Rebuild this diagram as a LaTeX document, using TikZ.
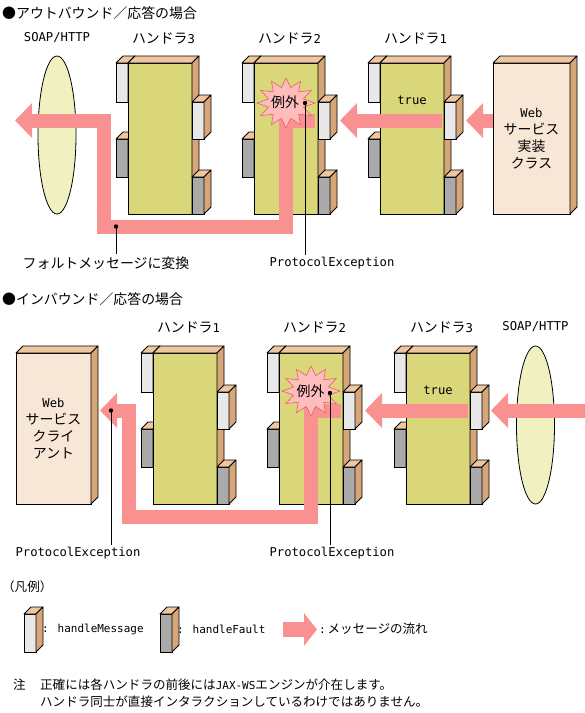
\documentclass[tikz,border=0pt]{standalone}
\usepackage{fontspec}
\setmainfont{DejaVu Sans Mono}
\newfontfamily\jp[Scale=1.14]{Noto Sans CJK JP}
\usetikzlibrary{arrows.meta,positioning,shapes.geometric}

\definecolor{bodyc}{RGB}{217,215,122}
\definecolor{sidec}{RGB}{214,166,120}
\definecolor{topc}{RGB}{238,198,160}
\definecolor{msgc}{RGB}{232,232,232}
\definecolor{faultc}{RGB}{170,170,170}
\definecolor{classc}{RGB}{248,230,214}
\definecolor{soapc}{RGB}{240,240,192}
\definecolor{flowc}{RGB}{250,145,145}
\definecolor{burstc}{RGB}{255,188,188}
\definecolor{burstline}{RGB}{228,96,96}

% box with top and right faces: name, fill, x, y, width, height
\newcommand{\cube}[6]{%
  \node[cubefront, fill=#2, minimum width=#5pt, minimum height=#6pt] (#1) at (#3,#4) {};
  \filldraw[cubeedge, fill=topc] (#1.north west) -- ++(7,-7) -- ([shift={(7,-7)}]#1.north east) -- (#1.north east) -- cycle;
  \filldraw[cubeedge, fill=sidec] (#1.north east) -- ++(7,-7) -- ([shift={(7,-7)}]#1.south east) -- (#1.south east) -- cycle;
}
% handler with handleMessage / handleFault tabs
\newcommand{\handler}[3]{%
  \cube{#1lm}{msgc}{#2-12}{#3}{12}{39}
  \cube{#1lf}{faultc}{#2-12}{#3+76}{12}{38}
  \cube{#1}{bodyc}{#2}{#3}{64}{151}
  \cube{#1rm}{msgc}{#2+64}{#3+39}{12}{37}
  \cube{#1rf}{faultc}{#2+64}{#3+114}{12}{37}
}
% exception burst around a centre
\newcommand{\burst}[2]{%
  \draw[burst] plot[variable=\k, samples at={0,...,23}]
    ({#1+(29-11*mod(\k,2))*cos(15*\k)}, {#2-(25-9*mod(\k,2))*sin(15*\k)}) -- cycle;
}

\begin{document}
\begin{tikzpicture}[
    x=1pt, y=-1pt,
    cubefront/.style={draw, line width=0.8pt, anchor=north west, inner sep=0pt, outer sep=0pt},
    cubeedge/.style={line width=0.8pt, line join=round},
    flow/.style={draw=flowc, line width=14pt, -{Triangle[length=17pt,width=34pt]}},
    lbl/.style={font=\fontsize{12.2}{17}\selectfont, inner sep=2pt},
    small/.style={font=\fontsize{11}{17}\selectfont, inner sep=1pt},
    soap/.style={ellipse, draw, line width=0.8pt, fill=soapc, minimum width=38pt, minimum height=158pt, inner sep=0pt},
    lead/.style={line width=0.8pt},
    burst/.style={fill=burstc, draw=burstline, line width=0.6pt}
  ]
  \useasboundingbox (0,0) rectangle (585,713);

  % Outbound
  \node[lbl, anchor=west] (ttl1) at (0,13) {{\jp ●アウトバウンド／応答の場合}};

  \node[soap] (os) at (57,135) {};
  \handler{oh3}{128}{63}
  \handler{oh2}{254}{63}
  \handler{oh1}{380}{63}
  \cube{cls}{classc}{493}{63}{77}{151}

  \node[lbl] (osoap) at (57,38) {SOAP/HTTP};
  \node[lbl] (oh3t) at (163.5,38) {{\jp ハンドラ}3};
  \node[lbl] (oh2t) at (289.5,38) {{\jp ハンドラ}2};
  \node[lbl] (oh1t) at (415.5,38) {{\jp ハンドラ}1};
  \node[lbl, align=center] (clst) at (cls.center) {Web\\{\jp サービス}\\{\jp 実装}\\{\jp クラス}};

  \coordinate (otip) at (15,120.5);
  \draw[flow] (cls.west |- oh1rm.west) -- ([xshift=10pt]oh1rm.east);
  \draw[flow] ([xshift=-2pt]oh1.east |- oh1rm.west) -- ([xshift=10pt]oh2rm.east);
  \draw[flow] ([xshift=-3pt]oh2rm.west) -- (oh2.center |- oh2rm.west) -- ([yshift=-12.5pt]oh2.south)
    -| ([xshift=-12pt]oh3lm.west |- oh2rm.west) -- (otip);

  \burst{286}{103}
  \node[lbl] (oex) at (285,102) {{\jp 例外}};
  \node[lbl] (otrue) at (412,100) {true};

  \coordinate (od1) at (305,103);
  \coordinate (od2) at (116,226.5);
  \node[lbl] (ope) at (332,263) {ProtocolException};
  \node[lbl] (ofault) at (106,263) {{\jp フォルトメッセージに変換}};
  \draw[lead] (od1) -- (od1 |- ope.north);
  \draw[lead] (od2) -- (od2 |- ofault.north);
  \fill (od1) circle (2.2pt);
  \fill (od2) circle (2.2pt);

  % Inbound
  \node[lbl, anchor=west] (ttl2) at (0,299) {{\jp ●インバウンド／応答の場合}};

  \cube{cli}{classc}{16}{353}{75}{151}
  \handler{ih1}{153}{353}
  \handler{ih2}{279}{353}
  \handler{ih3}{406}{353}
  \node[soap] (is) at (535.5,425) {};

  \node[lbl] (ih1t) at (188.5,327) {{\jp ハンドラ}1};
  \node[lbl] (ih2t) at (314.5,327) {{\jp ハンドラ}2};
  \node[lbl] (ih3t) at (441.5,327) {{\jp ハンドラ}3};
  \node[lbl] (isoap) at (535.5,327) {SOAP/HTTP};
  \node[lbl, align=center] (clit) at (cli.center) {Web\\{\jp サービス}\\{\jp クライ}\\{\jp アント}};

  \coordinate (iin) at (585,410.5);
  \draw[flow] (iin) -- ([xshift=9pt]ih3rm.east);
  \draw[flow] ([xshift=-2pt]ih3.east |- ih3rm.west) -- ([xshift=10pt]ih2rm.east);
  \draw[flow] ([xshift=-2pt]ih2rm.west) -- (ih2.center |- ih2rm.west) -- ([yshift=-12.5pt]ih2.south)
    -| ([xshift=-12.5pt]ih1lm.west |- ih2rm.west) -- ([xshift=9pt]cli.east |- ih2rm.west);

  \burst{311}{391}
  \node[lbl] (iex) at (310.5,391) {{\jp 例外}};
  \node[lbl] (itrue) at (438,390) {true};

  \coordinate (id1) at (330,393);
  \coordinate (id2) at (111,410.5);
  \node[lbl] (ipe1) at (332,553) {ProtocolException};
  \node[lbl] (ipe2) at (78,553) {ProtocolException};
  \draw[lead] (id1) -- (id1 |- ipe1.north);
  \draw[lead] (id2) -- (id2 |- ipe2.north);
  \fill (id1) circle (2.2pt);
  \fill (id2) circle (2.2pt);

  % Legend
  \node[small, anchor=west] (leg) at (1,587) {{\jp （凡例）}};
  \cube{lgm}{msgc}{24}{614}{12}{38}
  \node[small, anchor=west] (lgmt) at (41,629) {: handleMessage};
  \cube{lgf}{faultc}{160}{614}{12}{38}
  \node[small, anchor=west] (lgft) at (176,629) {: handleFault};
  \coordinate (lga) at (283,629.5);
  \coordinate (lgb) at (317,629.5);
  \draw[flow, line width=15pt, -{Triangle[length=13pt,width=32pt]}] (lga) -- (lgb);
  \node[small, anchor=west] (lgat) at (318,629) {:\,{\jp メッセージの流れ}};

  % Note
  \node[small, anchor=west] (nmark) at (12,685) {{\jp 注}};
  \node[small, anchor=west, align=left] (note) at (39,693.5)
    {{\jp 正確には各ハンドラの前後には}JAX-WS{\jp エンジンが介在します。}\\{\jp ハンドラ同士が直接インタラクションしているわけではありません。}};
\end{tikzpicture}
\end{document}
